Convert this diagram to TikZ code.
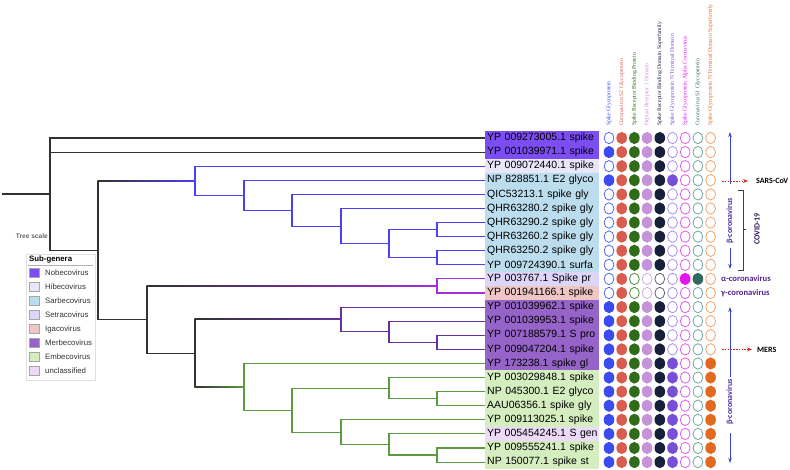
\documentclass[tikz,border=0pt]{standalone}
\usepackage{fontspec}
\setmainfont{Liberation Sans}
\newfontfamily\hdrfont{Liberation Serif}
\newfontfamily\annfont{Carlito}
\usetikzlibrary{arrows.meta,calc}
% leaf backgrounds (sub-genera)
\definecolor{nobe}{RGB}{123,77,242}
\definecolor{hibe}{RGB}{232,230,248}
\definecolor{sarbg}{RGB}{187,221,238}
\definecolor{setr}{RGB}{222,214,248}
\definecolor{igac}{RGB}{238,198,196}
\definecolor{merbg}{RGB}{150,100,200}
\definecolor{embg}{RGB}{212,238,192}
\definecolor{uncl}{RGB}{236,218,248}
% branch colours
\definecolor{treeblk}{RGB}{50,50,50}
\definecolor{sarb}{RGB}{78,62,245}
\definecolor{alga}{RGB}{165,45,220}
\definecolor{merb}{RGB}{100,50,160}
\definecolor{embe}{RGB}{92,155,62}
% domain columns: filled / open
\definecolor{cf1}{RGB}{60,75,240}   \definecolor{co1}{RGB}{85,105,240}
\definecolor{cf2}{RGB}{218,92,78}   \definecolor{co2}{RGB}{218,92,78}
\definecolor{cf3}{RGB}{46,108,24}   \definecolor{co3}{RGB}{75,140,55}
\definecolor{cf4}{RGB}{198,146,218} \definecolor{co4}{RGB}{210,170,230}
\definecolor{cf5}{RGB}{22,32,58}    \definecolor{co5}{RGB}{95,100,115}
\definecolor{cf6}{RGB}{120,80,215}  \definecolor{co6}{RGB}{170,145,238}
\definecolor{cf7}{RGB}{232,20,240}  \definecolor{co7}{RGB}{228,90,238}
\definecolor{cf8}{RGB}{48,104,98}   \definecolor{co8}{RGB}{110,170,162}
\definecolor{cf9}{RGB}{226,106,32}  \definecolor{co9}{RGB}{240,165,112}
\definecolor{arrblue}{RGB}{60,70,200}
\definecolor{annpurple}{RGB}{85,35,145}
\definecolor{dashred}{RGB}{220,40,40}

\begin{document}
\begin{tikzpicture}[x=1pt,y=-1pt,>=Stealth,
    leaf/.style={anchor=west,minimum height=14.09pt,inner xsep=2pt,inner ysep=0pt,
      text width=110pt,align=left,font=\fontsize{10.5}{12}\selectfont},
    hdr/.style={rotate=90,anchor=west,inner sep=0pt,font=\hdrfont\fontsize{5.7}{6}\selectfont},
    branch/.style={line width=1.1pt},
    ann/.style={font=\annfont\bfseries\fontsize{8}{9}\selectfont,inner sep=0pt},
    legtext/.style={anchor=west,inner sep=0pt,text=black!80,font=\fontsize{7.8}{9}\selectfont}]
  \useasboundingbox (0,0) rectangle (790,469);

  % leaves
  \foreach \lab/\bg [count=\i from 0] in {
      YP 009273005.1 spike/nobe, YP 001039971.1 spike/nobe, YP 009072440.1 spike/hibe,
      NP 828851.1 E2 glyco/sarbg, QIC53213.1 spike gly/sarbg, QHR63280.2 spike gly/sarbg,
      QHR63290.2 spike gly/sarbg, QHR63260.2 spike gly/sarbg, QHR63250.2 spike gly/sarbg,
      YP 009724390.1 surfa/sarbg, YP 003767.1 Spike pr/setr, YP 001941166.1 spike/igac,
      YP 001039962.1 spike/merbg, YP 001039953.1 spike/merbg, YP 007188579.1 S pro/merbg,
      YP 009047204.1 spike/merbg, YP 173238.1 spike gl/merbg, YP 003029848.1 spike/embg,
      NP 045300.1 E2 glyco/embg, AAU06356.1 spike gly/embg, YP 009113025.1 spike/embg,
      YP 005454245.1 S gen/uncl, YP 009555241.1 spike/embg, NP 150077.1 spike st/embg}
    \node[leaf,fill=\bg] (l\i) at (485,{138+14.09*\i}) {\mbox{\lab}};

  % inner nodes
  \coordinate (stem) at (2,194);
  \coordinate (root) at (50,194);
  \coordinate (c3) at (98,250.1);
  \coordinate (c2) at (147,319.6);
  \coordinate (c1) at (195,353.1);
  \coordinate (s7) at (195,180.7);
  \coordinate (s6) at (244,195.3);
  \coordinate (s5) at (292,210.3);
  \coordinate (s4) at (341,226.1);
  \coordinate (s3) at (389,243.7);
  \coordinate (s1) at (437,229.6);
  \coordinate (s2) at (437,257.8);
  \coordinate (ag) at (437,286.0);
  \coordinate (m3) at (341,319.4);
  \coordinate (m2) at (389,331.8);
  \coordinate (m1) at (437,342.4);
  \coordinate (e7) at (244,386.8);
  \coordinate (e6) at (292,410.1);
  \coordinate (e2) at (389,388.1);
  \coordinate (e1) at (437,398.7);
  \coordinate (e5) at (341,432.1);
  \coordinate (e4) at (389,444.5);
  \coordinate (e3) at (437,455.0);

  % backbone
  \draw[branch,treeblk] (stem) -- (root);
  \foreach \a/\b in {root/l0.west,root/l1.west,root/c3,c3/c2,c2/c1}
    \draw[branch,treeblk] (\a) |- (\b);
  \foreach \a/\b/\col in {c3/s7/sarb,c2/ag/alga,c1/m3/merb,c1/e7/embe}{
    \draw[branch,treeblk] (\a) -- (\a |- \b);
    \shade[left color=treeblk,right color=\col] ($(\a |- \b)+(-0.55,-0.55)$) rectangle ($(\b)+(0,0.55)$);
  }
  % clades
  \foreach \a/\b in {s7/l2.west,s7/s6,s6/l3.west,s6/s5,s5/l4.west,s5/s4,s4/l5.west,s4/s3,
      s3/s1,s3/s2,s1/l6.west,s1/l7.west,s2/l8.west,s2/l9.west}
    \draw[branch,sarb] (\a) |- (\b);
  \foreach \b in {l10.west,l11.west}
    \draw[branch,alga] (ag) |- (\b);
  \foreach \a/\b in {m3/l12.west,m3/m2,m2/l13.west,m2/m1,m1/l14.west,m1/l15.west}
    \draw[branch,merb] (\a) |- (\b);
  \foreach \a/\b in {e7/l16.west,e7/e6,e6/e2,e6/e5,e2/l17.west,e2/e1,e1/l18.west,e1/l19.west,
      e5/l20.west,e5/e4,e4/l21.west,e4/e3,e3/l22.west,e3/l23.west}
    \draw[branch,embe] (\a) |- (\b);

  \node[anchor=east,inner sep=0pt,text=black!60,font=\bfseries\fontsize{6.6}{8}\selectfont] (scale) at (48,236) {Tree scale};

  % legend
  \draw[black!12,fill=white] (26,254) rectangle (95,380);
  \node[anchor=west,inner sep=0pt,font=\bfseries\fontsize{7.8}{9}\selectfont] (legtitle) at (29,259) {Sub-genera};
  \draw[black!30] (28,265) -- (93,265);
  \foreach \nm/\bg [count=\k from 0] in {Nobecovirus/nobe,Hibecovirus/hibe,Sarbecovirus/sarbg,
      Setracovirus/setr,Igacovirus/igac,Merbecovirus/merbg,Embecovirus/embg,unclassified/uncl}{
    \draw[black!35,fill=\bg] (29,{268.5+14*\k}) rectangle (39.5,{277.5+14*\k});
    \node[legtext] (leg\k) at (45,{273+14*\k}) {\nm};
  }

  % domain headers
  \foreach \t/\col [count=\c from 0] in {Spike Glycoprotein/cf1, Coronavirus S2 Glycoprotein/cf2,
      Spike Receptor Binding Protein/cf3, Heptad Receptor 2 Domain/cf4,
      Spike Receptor Binding Domain Superfamily/cf5, Spike Glycoprotein N Terminal Domain/cf6,
      Spike Glycoprotein Alpha Coronavirus/cf7, Coronavirus S1 Glycoprotein/cf8,
      Spike Glycoprotein N Terminal Domain Superfamily/cf9}
    \node[hdr,text=\col] (h\c) at ({609+12.7*\c},126) {\t};

  % domain circles
  \foreach \p [count=\r from 0] in {
      {0,1,1,1,1,0,0,0,0},{1,1,1,1,1,0,0,0,0},{0,1,1,1,1,0,0,0,0},{1,1,1,1,1,1,0,0,0},
      {0,1,1,1,1,0,0,0,0},{0,1,1,1,1,0,0,0,0},{0,1,1,1,1,0,0,0,0},{0,1,1,1,1,0,0,0,0},
      {0,1,1,1,1,0,0,0,0},{0,1,1,1,1,0,0,0,0},{0,1,0,0,0,0,1,1,0},{0,1,0,0,0,0,0,0,0},
      {1,1,1,1,1,0,0,0,0},{1,1,1,1,1,0,0,0,0},{1,1,1,1,1,0,0,0,0},{1,1,1,1,1,0,0,0,0},
      {1,1,1,1,1,1,0,0,1},{1,1,1,1,1,1,0,0,1},{1,1,1,1,1,1,0,0,1},{1,1,1,1,1,1,0,0,1},
      {1,1,1,1,1,1,0,0,1},{1,1,1,1,1,1,0,0,1},{1,1,1,1,1,1,0,0,1},{1,1,1,1,1,1,0,0,1}}{
    \pgfmathsetmacro\cy{138+14.09*\r}
    \foreach \v [count=\c] in \p {
      \pgfmathsetmacro\cx{609+12.7*(\c-1)}
      \ifnum\v=1
        \fill[cf\c] (\cx,\cy) ellipse (5.3 and 6.1);
      \else
        \draw[co\c,line width=0.8pt,fill=white] (\cx,\cy) ellipse (4.9 and 5.7);
      \fi
    }
  }

  % annotations
  \coordinate (ba1) at (730,132);
  \coordinate (ba2) at (730,184);
  \coordinate (ba3) at (730,248);
  \coordinate (ba4) at (730,269);
  \draw[arrblue,thick,-{Stealth[length=5pt,width=3.5pt]}] (ba2) -- (ba1);
  \draw[arrblue,thick,-{Stealth[length=5pt,width=3.5pt]}] (ba3) -- (ba4);
  \node[ann,rotate=90,text=annpurple!70!arrblue] (beta1) at (730,221) {β-coronavirus};
  \coordinate (bb1) at (730,307);
  \coordinate (bb2) at (730,377);
  \coordinate (bb3) at (730,433);
  \coordinate (bb4) at (730,463);
  \draw[arrblue,thick,-{Stealth[length=5pt,width=3.5pt]}] (bb2) -- (bb1);
  \draw[arrblue,thick,-{Stealth[length=5pt,width=3.5pt]}] (bb3) -- (bb4);
  \node[ann,rotate=90,text=annpurple!70!arrblue] (beta2) at (730,402) {β-coronavirus};

  \node[ann,anchor=west] (sars) at (756,181) {SARS-CoV};
  \node[ann,anchor=west] (mers) at (757,349.4) {MERS};
  \coordinate (sd) at (722,181);
  \coordinate (md) at (722,349.4);
  \draw[dashred,line width=0.8pt,dash pattern=on 1.6pt off 1.2pt,-{Stealth[length=5pt,width=4pt]}] (sd) -- ([xshift=-8pt]sars.west);
  \draw[dashred,line width=0.8pt,dash pattern=on 1.6pt off 1.2pt,-{Stealth[length=5pt,width=4pt]}] (md) -- ([xshift=-5pt]mers.west);

  \draw[black!75,line width=1pt] (738,190) -- (743,190) -- (743,270) -- (738,270);
  \draw[black!75,line width=1pt] (743,229) -- (746,229);
  \node[ann,rotate=90,text=annpurple!60!black] (covid) at (757,229) {COVID-19};

  \node[ann,anchor=west,text=annpurple,font=\annfont\bfseries\fontsize{8.6}{9}\selectfont] (alpha) at (721,278.9) {α-coronavirus};
  \node[ann,anchor=west,text=annpurple,font=\annfont\bfseries\fontsize{8.6}{9}\selectfont] (gamma) at (721,293) {γ-coronavirus};
\end{tikzpicture}
\end{document}
